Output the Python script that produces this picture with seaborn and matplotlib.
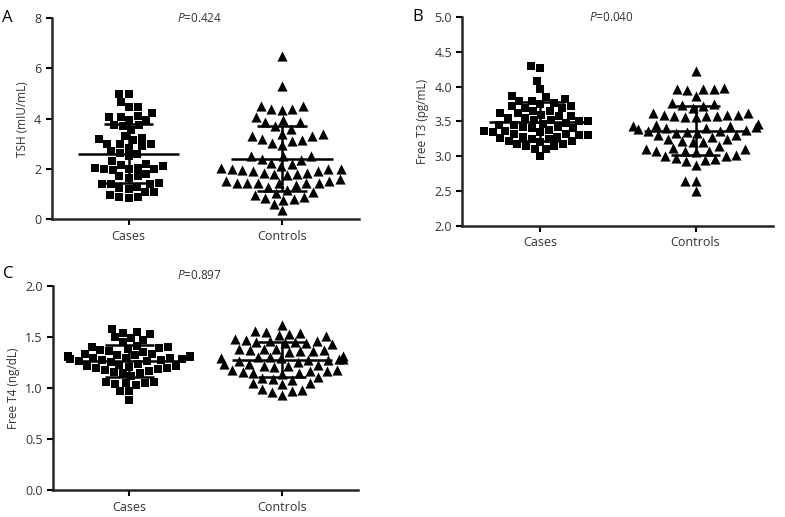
import numpy as np
import pandas as pd
import matplotlib
matplotlib.use('Agg')
import matplotlib.pyplot as plt
import seaborn as sns

groups = ['Cases', 'Controls']

# TSH (mIU/mL)
tsh_cases = [4.98, 5.0, 4.65, 4.45, 4.45, 4.1, 4.05, 4.05, 4.22, 3.95, 3.95,
             3.75, 3.7, 3.75, 3.55, 3.3, 3.2, 3.25, 3.15, 3.0, 3.0, 3.0, 2.9, 2.85,
             2.7, 2.6, 2.65, 2.5, 2.2, 2.3, 2.1, 2.05, 2.15, 2.05, 2.0, 1.95, 2.0, 2.0,
             1.8, 1.7, 1.7, 1.65, 1.45, 1.4, 1.4, 1.4, 1.3, 1.2, 1.25, 1.1, 1.1,
             0.9, 0.85, 0.9, 0.95]
tsh_controls = [6.5, 5.3, 4.5, 4.4, 4.4, 4.35, 4.5, 3.95, 3.85, 4.05, 3.7, 3.85, 3.6,
                3.4, 3.3, 3.15, 3.05, 3.1, 3.2, 3.3, 3.4, 2.95,
                2.35, 2.5, 2.4, 2.5, 2.5, 2.2, 2.25, 2.05, 2.0, 1.95, 1.9, 1.9, 2.0, 2.0, 2.1,
                1.85, 1.8, 1.75, 1.85, 1.8, 1.5, 1.45, 1.45, 1.45, 1.45, 1.45, 1.45, 1.5, 1.6,
                1.3, 1.35, 1.15, 1.1, 1.05, 0.85, 0.75, 0.9, 0.8, 0.95, 0.6, 0.35]

# Free T3 (pg/mL)
ft3_cases = [4.3, 4.27, 4.08, 3.96, 3.87, 3.82, 3.8, 3.8, 3.85, 3.76, 3.75,
             3.72, 3.7, 3.65, 3.62, 3.6, 3.62, 3.65, 3.7, 3.72,
             3.58, 3.55, 3.52, 3.5, 3.48, 3.47, 3.5, 3.52, 3.55, 3.58,
             3.45, 3.42, 3.4, 3.38, 3.4, 3.42, 3.45,
             3.36, 3.35, 3.32, 3.3, 3.28, 3.26, 3.28, 3.3, 3.32, 3.35, 3.36,
             3.25, 3.22, 3.2, 3.22, 3.25, 3.15, 3.17, 3.15, 3.18, 3.1, 3.1, 3.0]
ft3_controls = [4.23, 3.98, 3.96, 3.95, 3.96, 3.97, 3.86, 3.77, 3.73, 3.72, 3.7, 3.75,
                3.62, 3.6, 3.58, 3.57, 3.56, 3.58, 3.6, 3.62, 3.6, 3.58,
                3.45, 3.42, 3.44, 3.4, 3.38, 3.41, 3.43, 3.46, 3.39,
                3.35, 3.33, 3.31, 3.34, 3.36, 3.37,
                3.25, 3.22, 3.2, 3.15, 3.12, 3.2, 3.25, 3.3, 3.28,
                3.1, 3.08, 3.08, 3.06, 3.1, 3.08, 3.0, 2.98, 2.96, 2.95, 3.0, 3.02,
                2.93, 2.88, 2.65, 2.65, 2.5]

# Free T4 (ng/dL)
ft4_cases = [1.58, 1.55, 1.54, 1.53, 1.5, 1.49, 1.47, 1.45,
             1.41, 1.4, 1.38, 1.36, 1.35, 1.37, 1.39, 1.4,
             1.33, 1.32, 1.31, 1.3, 1.29, 1.3, 1.31, 1.32, 1.33,
             1.29, 1.28, 1.27, 1.26, 1.25, 1.26, 1.27, 1.28, 1.29,
             1.24, 1.22, 1.21, 1.2, 1.19, 1.2, 1.22, 1.23,
             1.18, 1.17, 1.16, 1.15, 1.12, 1.15,
             1.06, 1.05, 1.04, 1.03, 1.05, 1.06, 0.97, 0.97, 0.88]
ft4_controls = [1.62, 1.56, 1.55, 1.54, 1.53, 1.52, 1.51,
                1.48, 1.47, 1.46, 1.45, 1.44, 1.43, 1.44, 1.45, 1.46,
                1.38, 1.37, 1.36, 1.35, 1.36, 1.37, 1.38, 1.38,
                1.3, 1.29, 1.28, 1.27, 1.26, 1.27, 1.28, 1.29, 1.3, 1.31,
                1.24, 1.23, 1.22, 1.21, 1.22, 1.24, 1.25,
                1.18, 1.17, 1.16, 1.15, 1.14, 1.15, 1.17, 1.18,
                1.11, 1.1, 1.09, 1.08, 1.05, 1.04, 1.05,
                0.99, 0.98, 0.97, 0.96, 0.93]

p_values = ['0.424', '0.040', '0.897']

sns.set_style('ticks')
plt.rcParams['font.family'] = ['Open Sans', 'DejaVu Sans']
plt.rcParams['mathtext.fontset'] = 'custom'
plt.rcParams['mathtext.it'] = 'Open Sans:italic'
plt.rcParams['mathtext.rm'] = 'Open Sans'
TXT = '#333333'


def panel(ax, cases, controls, ylabel, yticks, pval, letter, ptxt_y, letter_y):
    df = pd.DataFrame({'group': ['Cases'] * len(cases) + ['Controls'] * len(controls),
                       'value': cases + controls})
    sns.swarmplot(data=df[df['group'] == 'Cases'], x='group', y='value', order=groups,
                  marker='s', color='black', size=6.3, linewidth=0, ax=ax)
    sns.swarmplot(data=df[df['group'] == 'Controls'], x='group', y='value', order=groups,
                  marker='^', color='black', size=7.3, linewidth=0, ax=ax)
    for i, g in enumerate(groups):
        v = df[df['group'] == g]['value']
        m, s = v.mean(), v.std()
        ax.hlines(m, i - 0.33, i + 0.33, color='black', lw=1.8, zorder=5)
        ax.hlines([m - s, m + s], i - 0.16, i + 0.16, color='black', lw=1.8, zorder=5)
        ax.vlines(i, m - s, m + s, color='black', lw=1.8, zorder=5)
    ax.set_xlim(-0.5, 1.5)
    ax.set_ylim(yticks[0], yticks[-1])
    ax.set_yticks(yticks)
    ax.set_xlabel('')
    ax.set_ylabel(ylabel, fontsize=8.5, color=TXT)
    sns.despine(ax=ax)
    for sp in ['left', 'bottom']:
        ax.spines[sp].set_linewidth(1.8)
    ax.tick_params(width=1.5, length=4, labelsize=9, colors=TXT)
    ax.tick_params(color='black')
    ax.text(0.48, ptxt_y, '$P$=' + pval, transform=ax.transAxes, ha='center', va='center',
            fontsize=8.5, color=TXT)
    ax.text(-0.145, letter_y, letter, transform=ax.transAxes, ha='center', va='center',
            fontsize=12, color='black')


fig = plt.figure(figsize=(7.85, 5.17), dpi=100)
ax_a = fig.add_axes([0.066, 0.576, 0.391, 0.389])
ax_b = fig.add_axes([0.589, 0.563, 0.396, 0.404])
ax_c = fig.add_axes([0.0675, 0.052, 0.389, 0.395])

panel(ax_a, tsh_cases, tsh_controls, 'TSH (mIU/mL)', [0, 2, 4, 6, 8], p_values[0], 'A', 1.0, 1.0)
panel(ax_b, ft3_cases, ft3_controls, 'Free T3 (pg/mL)', [2.0, 2.5, 3.0, 3.5, 4.0, 4.5, 5.0],
      p_values[1], 'B', 1.0, 1.0)
panel(ax_c, ft4_cases, ft4_controls, 'Free T4 (ng/dL)', [0.0, 0.5, 1.0, 1.5, 2.0],
      p_values[2], 'C', 1.05, 1.06)
ax_b.yaxis.set_major_formatter(matplotlib.ticker.FormatStrFormatter('%.1f'))
ax_c.yaxis.set_major_formatter(matplotlib.ticker.FormatStrFormatter('%.1f'))

fig.savefig('out.png', dpi=100)
